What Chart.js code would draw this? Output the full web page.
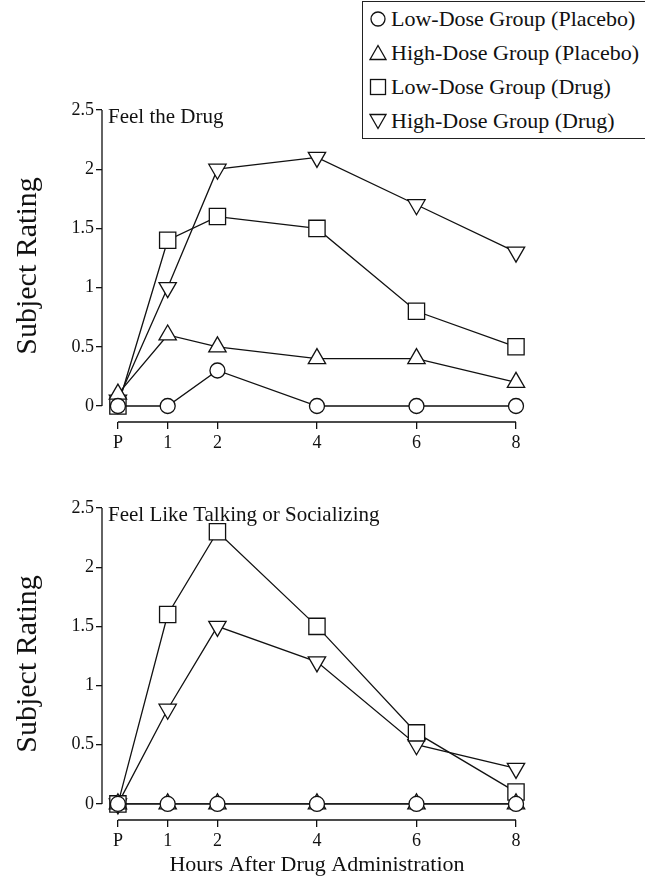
<!DOCTYPE html>
<html>
<head>
<meta charset="utf-8">
<script src="https://cdn.jsdelivr.net/npm/chart.js@4.4.1/dist/chart.umd.min.js"></script>
<style>
  html, body { margin: 0; padding: 0; background: #fff; }
  body { width: 645px; height: 882px; position: relative; overflow: hidden; font-family: 'Liberation Serif', serif; }
  .panel { position: absolute; left: 0; width: 645px; }
  #top-panel { top: 0; height: 460px; }
  #bottom-panel { top: 460px; height: 422px; }
  #legend {
    position: absolute; left: 362px; top: 1px; width: 290px; height: 138px;
    border: 1.5px solid #222; box-sizing: border-box; background: #fff;
  }
  .leg-row { position: absolute; left: 0; height: 30px; display: flex; align-items: center; }
  .leg-row svg { margin-left: 6px; margin-right: 4px; }
  .leg-row span { font-size: 22px; color: #111; white-space: nowrap; }
</style>
</head>
<body>
<div class="panel" id="top-panel"><canvas id="chartTop"></canvas></div>
<div class="panel" id="bottom-panel"><canvas id="chartBottom"></canvas></div>
<div id="legend"></div>

<script>
// Data
const hours = [0, 1, 2, 4, 6, 8];
const xTickLabels = ['P', '1', '2', '4', '6', '8'];
const yTicks = [0, 0.5, 1, 1.5, 2, 2.5];

const seriesNames = [
    'Low-Dose Group (Placebo)',
    'High-Dose Group (Placebo)',
    'Low-Dose Group (Drug)',
    'High-Dose Group (Drug)'
];

// Feel the Drug
const feelLowPlacebo = [0, 0, 0.3, 0, 0, 0];
const feelHighPlacebo = [0.1, 0.6, 0.5, 0.4, 0.4, 0.2];
const feelLowDrug = [0, 1.4, 1.6, 1.5, 0.8, 0.5];
const feelHighDrug = [0.05, 1.0, 2.0, 2.1, 1.7, 1.3];

// Feel Like Talking or Socializing
const talkLowPlacebo = [0, 0, 0, 0, 0, 0];
const talkHighPlacebo = [0, 0, 0, 0, 0, 0];
const talkLowDrug = [0, 1.6, 2.3, 1.5, 0.6, 0.1];
const talkHighDrug = [0, 0.8, 1.5, 1.2, 0.5, 0.3];

const markers = [
    { pointStyle: 'circle', radius: 7.5, rotation: 0 },
    { pointStyle: 'triangle', radius: 10, rotation: 0 },
    { pointStyle: 'rect', radius: 11.5, rotation: 0 },
    { pointStyle: 'triangle', radius: 10, rotation: 180 }
];

const INK = '#111';
const SERIF = "'Liberation Serif', 'Times New Roman', serif";

function makeDatasets(series) {
    return series.map((vals, i) => ({
        label: seriesNames[i],
        data: hours.map((h, j) => ({ x: h, y: vals[j] })),
        borderColor: INK,
        borderWidth: 1.3,
        backgroundColor: '#fff',
        pointBackgroundColor: '#fff',
        pointBorderColor: INK,
        pointBorderWidth: 1.3,
        pointStyle: markers[i].pointStyle,
        pointRadius: markers[i].radius,
        pointRotation: markers[i].rotation,
        tension: 0,
        clip: false
    }));
}

// axis lines that stop at 0..2.5 and P..8, panel caption, x title
const axisLines = {
    id: 'axisLines',
    beforeDatasetsDraw(chart, args, opts) {
        const { ctx, scales: { x, y } } = chart;
        ctx.save();
        ctx.strokeStyle = INK;
        ctx.lineWidth = 1.3;
        ctx.beginPath();
        ctx.moveTo(x.left, y.getPixelForValue(2.5));
        ctx.lineTo(x.left, y.getPixelForValue(0));
        ctx.moveTo(x.getPixelForValue(0), y.bottom);
        ctx.lineTo(x.getPixelForValue(8), y.bottom);
        ctx.stroke();

        ctx.fillStyle = INK;
        ctx.font = '21px ' + SERIF;
        ctx.textBaseline = 'alphabetic';
        ctx.textAlign = 'left';
        ctx.fillText(opts.caption, x.left + 6, y.getPixelForValue(2.5) + 13);

        if (opts.xTitle) {
            ctx.font = '22px ' + SERIF;
            ctx.textAlign = 'center';
            ctx.textBaseline = 'middle';
            const cx = (x.getPixelForValue(0) + x.getPixelForValue(8)) / 2;
            ctx.fillText(opts.xTitle, cx, y.bottom + 45);
        }
        ctx.restore();
    }
};

function makeChart(canvasId, series, caption, opts) {
    return new Chart(document.getElementById(canvasId), {
        type: 'line',
        data: { datasets: makeDatasets(series) },
        plugins: [axisLines],
        options: {
            responsive: true,
            maintainAspectRatio: false,
            animation: false,
            layout: { padding: { top: opts.padTop, right: 129, left: 0, bottom: 0 } },
            plugins: {
                legend: { display: false },
                tooltip: { enabled: false },
                axisLines: { caption: caption, xTitle: opts.xTitle }
            },
            scales: {
                x: {
                    type: 'linear',
                    min: -0.32,
                    max: 8,
                    afterBuildTicks: s => { s.ticks = hours.map(v => ({ value: v })); },
                    afterFit: s => { s.height = opts.xHeight; },
                    ticks: {
                        callback: v => xTickLabels[hours.indexOf(v)],
                        color: INK,
                        font: { family: SERIF, size: 18 },
                        padding: 3,
                        maxRotation: 0,
                        autoSkip: false
                    },
                    grid: { drawOnChartArea: false, drawTicks: true, tickLength: 7, color: INK, lineWidth: 1.3 },
                    border: { display: false }
                },
                y: {
                    type: 'linear',
                    min: opts.yMin,
                    max: 2.5,
                    afterBuildTicks: s => { s.ticks = yTicks.map(v => ({ value: v })); },
                    afterFit: s => { s.width = 102; },
                    ticks: {
                        callback: v => String(v),
                        color: INK,
                        font: { family: SERIF, size: 18 },
                        padding: 2
                    },
                    grid: { drawOnChartArea: false, drawTicks: true, tickLength: 6, color: INK, lineWidth: 1.3 },
                    border: { display: false },
                    title: {
                        display: true,
                        text: 'Subject Rating',
                        color: INK,
                        font: { family: SERIF, size: 30 },
                        padding: { top: 10, bottom: 0 }
                    }
                }
            }
        }
    });
}

makeChart('chartTop',
    [feelLowPlacebo, feelHighPlacebo, feelLowDrug, feelHighDrug],
    'Feel the Drug',
    { padTop: 110, xHeight: 38, yMin: -0.135 });

makeChart('chartBottom',
    [talkLowPlacebo, talkHighPlacebo, talkLowDrug, talkHighDrug],
    'Feel Like Talking or Socializing',
    { padTop: 48, xHeight: 62, yMin: -0.136, xTitle: 'Hours After Drug Administration' });

// HTML legend
const legendSvgs = [
    '<circle cx="9" cy="9" r="7" fill="#fff" stroke="#111" stroke-width="1.3"/>',
    '<polygon points="9,1.5 17,15.5 1,15.5" fill="#fff" stroke="#111" stroke-width="1.3"/>',
    '<rect x="1.5" y="1.5" width="15" height="15" fill="#fff" stroke="#111" stroke-width="1.3"/>',
    '<polygon points="1,2.5 17,2.5 9,16.5" fill="#fff" stroke="#111" stroke-width="1.3"/>'
];
const legend = document.getElementById('legend');
const rowTops = [2, 36, 70, 104];
seriesNames.forEach((name, i) => {
    const row = document.createElement('div');
    row.className = 'leg-row';
    row.style.top = rowTops[i] + 'px';
    row.innerHTML = `<svg width="18" height="18" viewBox="0 0 18 18">${legendSvgs[i]}</svg><span>${name}</span>`;
    legend.appendChild(row);
});
</script>
</body>
</html>
